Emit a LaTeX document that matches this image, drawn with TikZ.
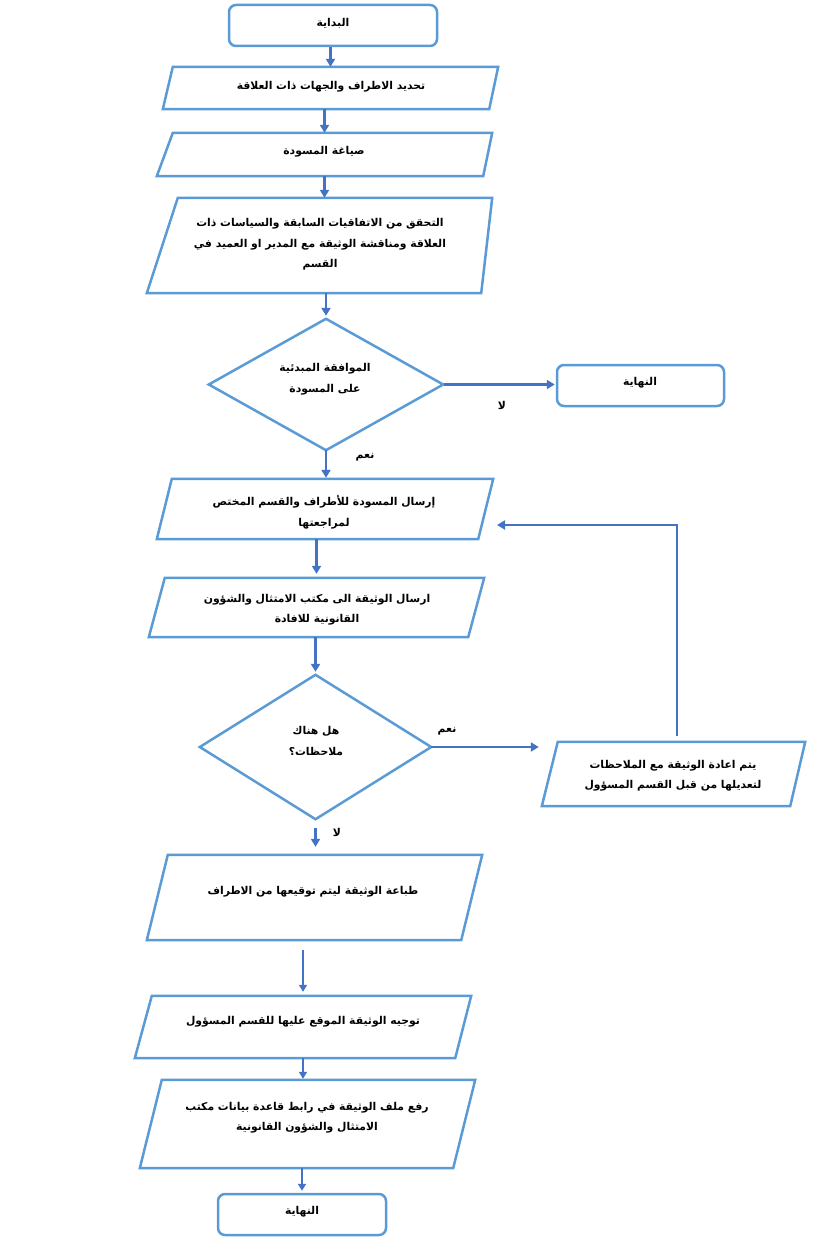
\documentclass[tikz,border=0pt]{standalone}
\usepackage{fontspec}
\usetikzlibrary{arrows.meta,calc}
\TeXXeTstate=1
\newfontfamily\arabicfont[Script=Arabic]{DejaVu Sans}
\definecolor{boxblue}{HTML}{5B9BD5}
\definecolor{linkblue}{HTML}{4472C4}
\newcommand\AR[1]{\beginR #1\endR}
\newcommand\paraout[3]{\draw[outline] ([xshift=#2pt]#1.north west) -- (#1.north east) -- ([xshift=-#3pt]#1.south east) -- (#1.south west) -- cycle;}
\newcommand\diaout[1]{\draw[outline] (#1.north) -- (#1.east) -- (#1.south) -- (#1.west) -- cycle;}
\begin{document}
\begin{tikzpicture}[x=1pt,y=-1pt,
  shapebox/.style={draw=none,inner sep=0pt},
  outline/.style={draw=boxblue,line width=2.5pt,line join=miter},
  term/.style={draw=boxblue,line width=2.5pt,rounded corners=7pt,inner sep=0pt},
  txt/.style={font=\arabicfont\bfseries\fontsize{10.8}{20.5}\selectfont,align=center,inner sep=0pt,text=black},
  arr/.style={draw=linkblue,line width=2.6pt,-{Triangle[length=8pt,width=9pt]}},
  thickarr/.style={arr,line width=3.6pt,-{Triangle[length=8pt,width=9pt]}},
  thinarr/.style={draw=linkblue,line width=1.6pt,-{Triangle[length=7pt,width=8pt]}}]
\useasboundingbox (0,0) rectangle (821,1247);

% shapes
\node[term,minimum width=208pt,minimum height=41pt] (s0) at (333,25.5) {};
\node[shapebox,minimum width=335pt,minimum height=42pt] (p1) at (330.5,88) {};
\node[shapebox,minimum width=335pt,minimum height=43pt] (p2) at (324.5,154.5) {};
\node[shapebox,minimum width=345pt,minimum height=95pt] (p3) at (319.5,245.5) {};
\node[shapebox,minimum width=234pt,minimum height=131pt] (d1) at (326,384.5) {};
\node[term,minimum width=167pt,minimum height=41pt] (e1) at (640.5,385.5) {};
\node[shapebox,minimum width=336pt,minimum height=60pt] (p4) at (325,509) {};
\node[shapebox,minimum width=335pt,minimum height=59pt] (p5) at (316.5,607.5) {};
\node[shapebox,minimum width=231pt,minimum height=144pt] (d2) at (315.5,747) {};
\node[shapebox,minimum width=263pt,minimum height=64pt] (p6) at (673.5,774) {};
\node[shapebox,minimum width=335pt,minimum height=85pt] (p7) at (314.5,897.5) {};
\node[shapebox,minimum width=336pt,minimum height=62pt] (p8) at (303,1027) {};
\node[shapebox,minimum width=335pt,minimum height=88pt] (p9) at (307.5,1124) {};
\node[term,minimum width=168pt,minimum height=41pt] (e2) at (302,1214.5) {};

\paraout{p1}{10}{9}
\paraout{p2}{16}{9}
\paraout{p3}{31}{11}
\diaout{d1}
\paraout{p4}{15}{15}
\paraout{p5}{16}{16}
\diaout{d2}
\paraout{p6}{16}{15}
\paraout{p7}{21}{21}
\paraout{p8}{17}{16}
\paraout{p9}{22}{22}

% texts
\node[txt] (t0) at (333,23) {\AR{البداية}};
\node[txt] (t1) at (331,87) {\AR{تحديد الاطراف والجهات ذات العلاقة}};
\node[txt] (t2) at (324,152) {\AR{صياغة المسودة}};
\node[txt] (t3) at (320,244.5) {\AR{التحقق من الاتفاقيات السابقة والسياسات ذات}\\\AR{العلاقة ومناقشة الوثيقة مع المدير او العميد في}\\\AR{القسم}};
\node[txt] (td1) at (325,379) {\AR{الموافقة المبدئية}\\\AR{على المسودة}};
\node[txt] (te1) at (640,383) {\AR{النهاية}};
\node[txt] (t4) at (324,512) {\AR{إرسال المسودة للأطراف والقسم المختص}\\\AR{لمراجعتها}};
\node[txt] (t5) at (317,609.5) {\AR{ارسال الوثيقة الى مكتب الامتثال والشؤون}\\\AR{القانونية للافادة}};
\node[txt] (td2) at (316,741) {\AR{هل هناك}\\\AR{ملاحظات؟}};
\node[txt] (t6) at (673,775.5) {\AR{يتم اعادة الوثيقة مع الملاحظات}\\\AR{لتعديلها من قبل القسم المسؤول}};
\node[txt] (t7) at (313,892) {\AR{طباعة الوثيقة ليتم توقيعها من الاطراف}};
\node[txt] (t8) at (303,1022) {\AR{توجيه الوثيقة الموقع عليها للقسم المسؤول}};
\node[txt] (t9) at (307,1117.5) {\AR{رفع ملف الوثيقة في رابط قاعدة بيانات مكتب}\\\AR{الامتثال والشؤون القانونية}};
\node[txt] (te2) at (302,1212) {\AR{النهاية}};

% labels
\node[txt] (l1) at (502,405) {\AR{لا}};
\node[txt] (l2) at (365,457) {\AR{نعم}};
\node[txt] (l3) at (447,731) {\AR{نعم}};
\node[txt] (l4) at (337,832) {\AR{لا}};

% connectors
\draw[arr] (p1.north |- s0.south) -- (p1.north);
\draw[arr] (p2.north |- p1.south) -- (p2.north);
\draw[arr] (p2.south) -- (p2.south |- p3.north);
\draw[arr,shorten >=3pt] (d1.north |- p3.south) -- (d1.north);
\draw[thickarr,shorten <=1pt,shorten >=1pt] (d1.east) -- (d1.east -| e1.west);
\draw[arr,shorten >=1pt] (d1.south) -- (d1.south |- p4.north);
\draw[thickarr,shorten >=4pt] (p5.north |- p4.south) -- (p5.north);
\draw[arr,shorten >=3pt] (d2.north |- p5.south) -- (d2.north);
\draw[arr,shorten >=3pt] (d2.east) -- (d2.east -| p6.west);
\coordinate (fb) at (677,525);
\coordinate (fbend) at (497,525);
\draw[arr,shorten <=6pt] (fb |- p6.north) -- (fb) -- (fbend);
\draw[arr,shorten <=9pt,shorten >=8pt] (d2.south) -- (d2.south |- p7.north);
\draw[thinarr,shorten <=10pt,shorten >=4pt] (p8.north |- p7.south) -- (p8.north);
\draw[thinarr,shorten >=1pt] (p8.south) -- (p8.south |- p9.north);
\draw[thinarr,shorten >=2pt] (e2.north |- p9.south) -- (e2.north);
\end{tikzpicture}
\end{document}
